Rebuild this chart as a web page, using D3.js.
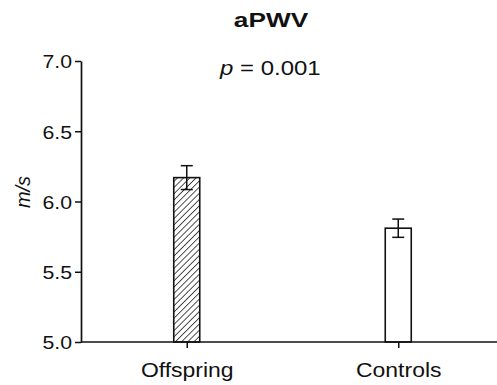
<!DOCTYPE html>
<html>
<head>
<meta charset="utf-8">
<script src="https://cdn.jsdelivr.net/npm/d3@7"></script>
<style>
  html, body { margin: 0; padding: 0; background: #fff; }
  svg { display: block; }
  text { font-family: "Liberation Sans", Arial, Helvetica, sans-serif; fill: #111; }
</style>
</head>
<body>
<svg id="chart" width="497" height="385"></svg>
<script>
// aPWV by group: mean and standard error (m/s)
const groups = ["Offspring", "Controls"];
const means = [6.17, 5.81];
const errors = [0.085, 0.065];
const yTicks = [5.0, 5.5, 6.0, 6.5, 7.0];
const title = "aPWV";
const pLabel = "0.001";
const yLabel = "m/s";

const W = 497, H = 385;
const margin = { left: 81, top: 61, bottom: 43 };
const plotBottom = H - margin.bottom;   // y of 5.0
const xRight = 504;                     // axis runs past the right edge
const textStretch = 1.12;               // glyphs are set slightly wide

const svg = d3.select("#chart");

const x = d3.scalePoint().domain(groups).range([margin.left, xRight]).padding(0.5);
const y = d3.scaleLinear().domain([5.0, 7.0]).range([plotBottom, margin.top]);
const barWidth = 26;

// diagonal hatching for the first group
const defs = svg.append("defs");
defs.append("pattern")
  .attr("id", "hatch")
  .attr("patternUnits", "userSpaceOnUse")
  .attr("width", 4.4).attr("height", 4.4)
  .attr("patternTransform", "rotate(45)")
  .append("line")
  .attr("x1", 0).attr("y1", 0).attr("x2", 0).attr("y2", 4.4)
  .attr("stroke", "#161616").attr("stroke-width", 1.5);

const fills = ["url(#hatch)", "#ffffff"];

// bars
svg.append("g").selectAll("rect")
  .data(groups)
  .join("rect")
  .attr("x", d => x(d) - barWidth / 2)
  .attr("y", (d, i) => y(means[i]))
  .attr("width", barWidth)
  .attr("height", (d, i) => y(5.0) - y(means[i]))
  .attr("fill", (d, i) => fills[i])
  .attr("stroke", "#111")
  .attr("stroke-width", 1.6);

// error bars
const capW = 12;
const eb = svg.append("g").attr("stroke", "#111").attr("stroke-width", 1.5);
groups.forEach((g, i) => {
  const cx = x(g);
  const hi = y(means[i] + errors[i]);
  const lo = y(means[i] - errors[i]);
  eb.append("line").attr("x1", cx).attr("x2", cx).attr("y1", hi).attr("y2", lo);
  eb.append("line").attr("x1", cx - capW / 2).attr("x2", cx + capW / 2).attr("y1", hi).attr("y2", hi);
  eb.append("line").attr("x1", cx - capW / 2).attr("x2", cx + capW / 2).attr("y1", lo).attr("y2", lo);
});

// y axis
const yAxis = svg.append("g")
  .attr("transform", `translate(${margin.left},0)`)
  .call(d3.axisLeft(y).tickValues(yTicks).tickFormat(d3.format(".1f")).tickSize(6).tickPadding(3).tickSizeOuter(0));
yAxis.select(".domain").attr("stroke", "#111").attr("stroke-width", 1.7);
yAxis.selectAll(".tick line").attr("stroke", "#111").attr("stroke-width", 1.5);
yAxis.selectAll(".tick text")
  .attr("font-size", 19)
  .attr("font-family", null)
  .attr("fill", "#111")
  .attr("x", -9 / textStretch)
  .attr("dy", "0.36em")
  .attr("transform", `scale(${textStretch},1)`);

// x axis
const xAxis = svg.append("g")
  .attr("transform", `translate(0,${plotBottom})`)
  .call(d3.axisBottom(x).tickSize(6).tickSizeOuter(0));
xAxis.select(".domain").attr("stroke", "#111").attr("stroke-width", 1.7)
  .attr("d", `M${margin.left},0H${xRight}`);
xAxis.selectAll(".tick line").attr("stroke", "#111").attr("stroke-width", 1.5);
xAxis.selectAll(".tick text")
  .attr("font-size", 20.5)
  .attr("font-family", null)
  .attr("fill", "#111")
  .attr("y", 0).attr("dy", null)
  .attr("transform", `translate(0,34.5) scale(${textStretch},1)`);

// title
svg.append("text")
  .attr("transform", "translate(271,27) scale(1.25,1)")
  .attr("text-anchor", "middle")
  .attr("font-size", 21)
  .attr("font-weight", "bold")
  .text(title);

// p value annotation
const pt = svg.append("text")
  .attr("transform", "translate(220,75) scale(1.17,1)")
  .attr("font-size", 20.5);
pt.append("tspan").attr("font-style", "italic").text("p");
pt.append("tspan").text(" = " + pLabel);

// y axis title
svg.append("text")
  .attr("transform", "translate(30,192) rotate(-90)")
  .attr("text-anchor", "middle")
  .attr("font-size", 20)
  .attr("font-style", "italic")
  .text(yLabel);
</script>
</body>
</html>
